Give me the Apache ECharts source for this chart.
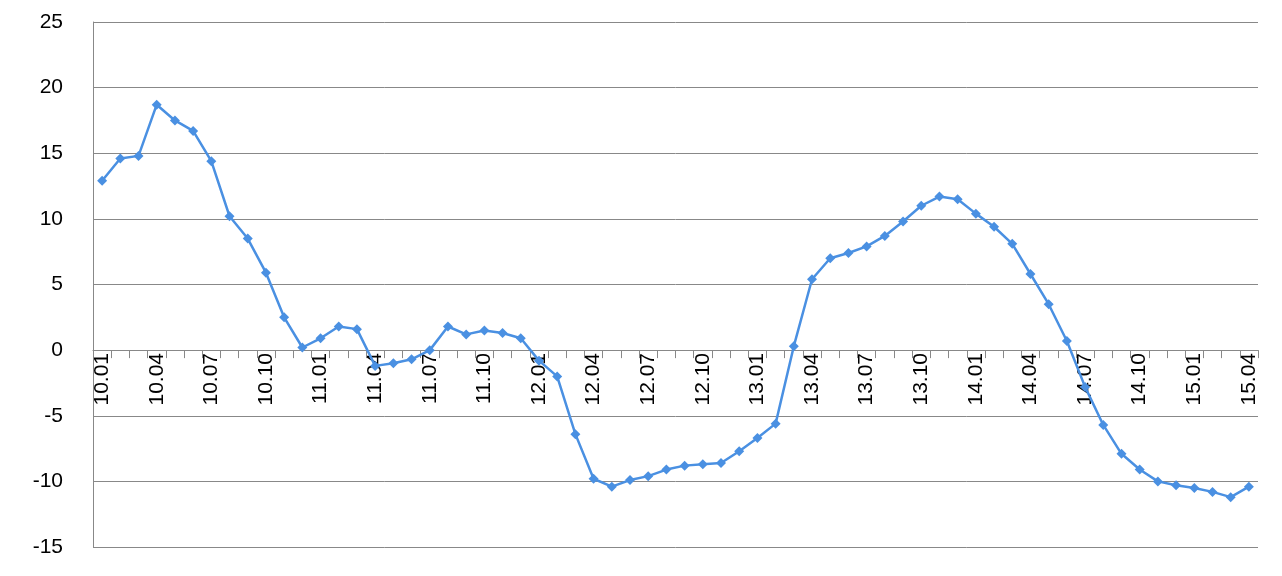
<!DOCTYPE html>
<html>
<head>
<meta charset="utf-8" />
<script src="https://cdn.jsdelivr.net/npm/echarts@6/dist/echarts.min.js"></script>
<style>html,body{margin:0;padding:0;background:#fff;}</style>
</head>
<body>
<div id="main" style="width:1282px;height:576px;"></div>
<script type="text/javascript">
// 月份标签 10.01 ~ 15.04
var years = ['10', '11', '12', '13', '14', '15'];
var months = [];
for (var y = 0; y < years.length; y++) {
    for (var m = 1; m <= 12; m++) {
        if (years[y] === '15' && m > 4) break;
        months.push(years[y] + '.' + (m < 10 ? '0' + m : m));
    }
}

var values = [
    12.9, 14.6, 14.8, 18.7, 17.5, 16.7, 14.4, 10.2, 8.5, 5.9, 2.5, 0.2,
    0.9, 1.8, 1.6, -1.2, -1.0, -0.7, 0.0, 1.8, 1.2, 1.5, 1.3, 0.9,
    -0.8, -2.0, -6.4, -9.8, -10.4, -9.9, -9.6, -9.1, -8.8, -8.7, -8.6, -7.7,
    -6.7, -5.6, 0.3, 5.4, 7.0, 7.4, 7.9, 8.7, 9.8, 11.0, 11.7, 11.5,
    10.4, 9.4, 8.1, 5.8, 3.5, 0.7, -2.8, -5.7, -7.9, -9.1, -10.0, -10.3,
    -10.5, -10.8, -11.2, -10.4
];

var labelFont = { color: '#000', fontSize: 21, fontFamily: 'Liberation Sans, Arial' };

var myChart = echarts.init(document.getElementById('main'));
var option = {
    animation: false,
    grid: { left: 93, right: 24, top: 22, bottom: 29, outerBoundsMode: 'none' },
    xAxis: [{
        type: 'category',
        data: months,
        boundaryGap: true,
        axisLine: { onZero: true, lineStyle: { color: '#888' } },
        axisTick: { show: true, interval: 0, length: 8, lineStyle: { color: '#888' } },
        axisLabel: { show: false }
    }, {
        // 只用于显示旋转的月份标签（位于零线下方）
        type: 'category',
        data: months,
        boundaryGap: true,
        position: 'bottom',
        axisLine: { show: false, onZero: false },
        axisTick: { show: false },
        axisLabel: Object.assign({ interval: 2, rotate: 90, margin: -194 }, labelFont)
    }],
    yAxis: {
        type: 'value',
        min: -15,
        max: 25,
        interval: 5,
        axisLine: { show: true, lineStyle: { color: '#888' } },
        axisTick: { show: false },
        splitLine: { lineStyle: { color: '#888', width: 1 } },
        axisLabel: Object.assign({ margin: 30 }, labelFont)
    },
    series: [{
        type: 'line',
        data: values,
        symbol: 'diamond',
        symbolSize: 10,
        lineStyle: { color: '#4a90e2', width: 2.5 },
        itemStyle: { color: '#4a90e2' }
    }]
};
myChart.setOption(option);
</script>
</body>
</html>
